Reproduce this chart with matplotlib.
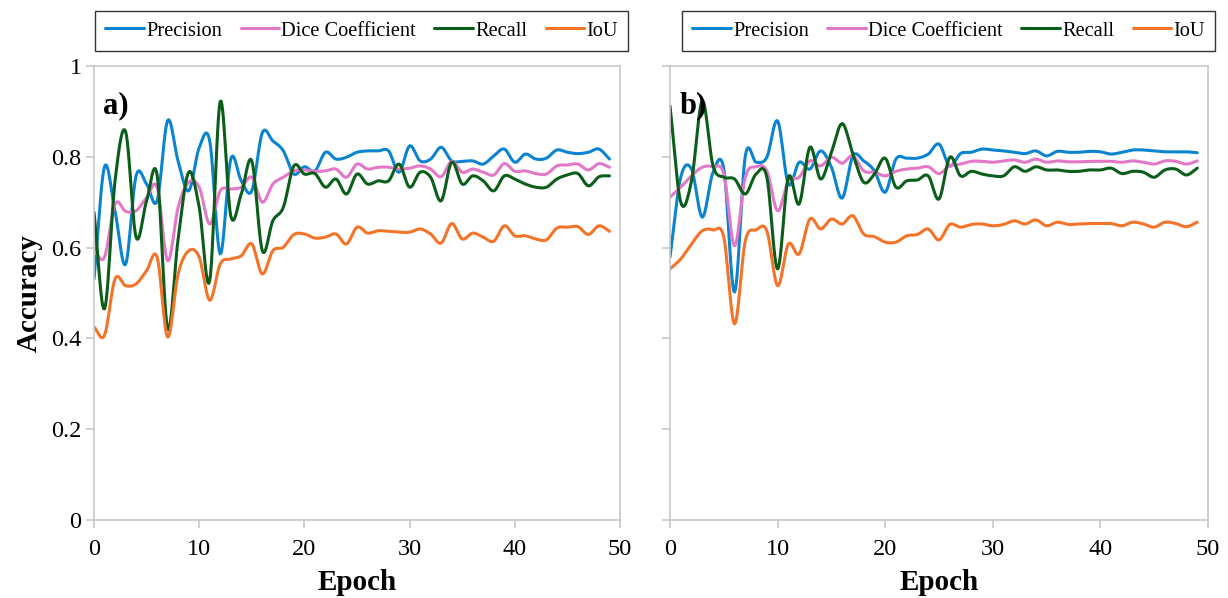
import numpy as np
import matplotlib.pyplot as plt

plt.rcParams['font.family'] = ['Liberation Serif', 'DejaVu Serif']

epochs = list(range(50))
series_names = ["Precision", "Dice Coefficient", "Recall", "IoU"]
colors = ["#0a84d0", "#e377c8", "#0b5e1a", "#f37328"]

# panel a) values, one per epoch
prec_a = [0.531, 0.778, 0.68, 0.563, 0.758, 0.74, 0.703, 0.88, 0.79, 0.725,
          0.82, 0.835, 0.586, 0.795, 0.747, 0.725, 0.853, 0.835, 0.813, 0.762,
          0.778, 0.769, 0.81, 0.795, 0.799, 0.81, 0.813, 0.813, 0.813, 0.766,
          0.824, 0.791, 0.795, 0.821, 0.791, 0.79, 0.791, 0.784, 0.802, 0.817,
          0.788, 0.806, 0.795, 0.797, 0.815, 0.81, 0.807, 0.81, 0.817, 0.795]
dice_a = [0.593, 0.579, 0.696, 0.68, 0.681, 0.71, 0.733, 0.571, 0.689, 0.744,
          0.733, 0.652, 0.725, 0.729, 0.733, 0.755, 0.70, 0.74, 0.755, 0.769,
          0.771, 0.768, 0.769, 0.773, 0.755, 0.784, 0.773, 0.777, 0.777, 0.773,
          0.775, 0.78, 0.773, 0.756, 0.79, 0.766, 0.773, 0.766, 0.76, 0.785,
          0.768, 0.769, 0.763, 0.762, 0.78, 0.782, 0.784, 0.771, 0.785, 0.777]
rec_a = [0.678, 0.465, 0.747, 0.856, 0.623, 0.703, 0.76, 0.421, 0.62, 0.766,
         0.689, 0.527, 0.922, 0.67, 0.718, 0.791, 0.593, 0.659, 0.689, 0.78,
         0.762, 0.763, 0.733, 0.751, 0.718, 0.762, 0.74, 0.747, 0.747, 0.784,
         0.733, 0.766, 0.755, 0.703, 0.788, 0.74, 0.758, 0.747, 0.725, 0.758,
         0.751, 0.74, 0.733, 0.733, 0.751, 0.76, 0.763, 0.736, 0.756, 0.758]
iou_a = [0.425, 0.407, 0.531, 0.516, 0.52, 0.549, 0.579, 0.403, 0.542, 0.593,
         0.579, 0.484, 0.564, 0.575, 0.582, 0.608, 0.542, 0.593, 0.601, 0.629,
         0.63, 0.621, 0.623, 0.63, 0.608, 0.645, 0.632, 0.637, 0.636, 0.634,
         0.634, 0.641, 0.63, 0.61, 0.653, 0.619, 0.632, 0.623, 0.614, 0.648,
         0.626, 0.626, 0.619, 0.617, 0.643, 0.645, 0.646, 0.629, 0.648, 0.636]

# panel b)
prec_b = [0.579, 0.755, 0.773, 0.667, 0.766, 0.773, 0.502, 0.802, 0.788, 0.799,
          0.879, 0.74, 0.788, 0.773, 0.813, 0.777, 0.709, 0.802, 0.791, 0.769,
          0.722, 0.795, 0.797, 0.797, 0.806, 0.828, 0.78, 0.807, 0.81, 0.817,
          0.815, 0.813, 0.81, 0.807, 0.813, 0.802, 0.812, 0.81, 0.81, 0.812,
          0.811, 0.806, 0.81, 0.815, 0.815, 0.813, 0.811, 0.811, 0.811, 0.809]
dice_b = [0.711, 0.733, 0.758, 0.777, 0.778, 0.762, 0.604, 0.755, 0.778, 0.769,
          0.681, 0.747, 0.755, 0.791, 0.78, 0.799, 0.786, 0.802, 0.769, 0.766,
          0.758, 0.768, 0.773, 0.775, 0.778, 0.763, 0.78, 0.784, 0.79, 0.79,
          0.788, 0.791, 0.793, 0.788, 0.795, 0.788, 0.791, 0.789, 0.789, 0.79,
          0.79, 0.79, 0.788, 0.791, 0.788, 0.784, 0.791, 0.79, 0.784, 0.791]
rec_b = [0.912, 0.70, 0.747, 0.923, 0.78, 0.755, 0.751, 0.718, 0.762, 0.755,
         0.553, 0.755, 0.696, 0.821, 0.751, 0.81, 0.873, 0.806, 0.744, 0.762,
         0.797, 0.733, 0.747, 0.749, 0.758, 0.707, 0.799, 0.758, 0.768, 0.762,
         0.758, 0.758, 0.778, 0.768, 0.778, 0.771, 0.771, 0.768, 0.768, 0.771,
         0.771, 0.775, 0.763, 0.768, 0.766, 0.755, 0.771, 0.773, 0.76, 0.775]
iou_b = [0.553, 0.575, 0.608, 0.637, 0.639, 0.623, 0.432, 0.615, 0.639, 0.637,
         0.516, 0.608, 0.586, 0.663, 0.641, 0.663, 0.652, 0.67, 0.63, 0.624,
         0.612, 0.612, 0.626, 0.629, 0.641, 0.617, 0.651, 0.645, 0.651, 0.652,
         0.648, 0.651, 0.659, 0.652, 0.661, 0.648, 0.656, 0.651, 0.652, 0.653,
         0.653, 0.653, 0.648, 0.656, 0.652, 0.645, 0.656, 0.653, 0.646, 0.656]


def smooth(x, y, n=12):
    # catmull-rom curve through the points, like Excel's "smoothed line"
    x = np.asarray(x, float)
    y = np.asarray(y, float)
    px = np.concatenate([[2 * x[0] - x[1]], x, [2 * x[-1] - x[-2]]])
    py = np.concatenate([[2 * y[0] - y[1]], y, [2 * y[-1] - y[-2]]])
    t = np.linspace(0, 1, n, endpoint=False)
    xs, ys = [], []
    for i in range(1, len(px) - 2):
        for p, out in ((px, xs), (py, ys)):
            p0, p1, p2, p3 = p[i - 1], p[i], p[i + 1], p[i + 2]
            out.append(0.5 * (2 * p1 + (-p0 + p2) * t
                              + (2 * p0 - 5 * p1 + 4 * p2 - p3) * t ** 2
                              + (-p0 + 3 * p1 - 3 * p2 + p3) * t ** 3))
    xs.append([x[-1]])
    ys.append([y[-1]])
    return np.concatenate(xs), np.concatenate(ys)


fig = plt.figure(figsize=(12.28, 5.98), dpi=100)
ax_a = fig.add_axes([94 / 1228, 1 - 520 / 598, 526 / 1228, 454 / 598])
ax_b = fig.add_axes([670 / 1228, 1 - 520 / 598, 538 / 1228, 454 / 598])

panels = [(ax_a, "a)", [prec_a, dice_a, rec_a, iou_a], 0.509),
          (ax_b, "b)", [prec_b, dice_b, rec_b, iou_b], 0.518)]

for ax, tag, data, lx in panels:
    for name, vals, c in zip(series_names, data, colors):
        sx, sy = smooth(epochs, vals)
        ax.plot(sx, sy, color=c, lw=2.2, label=name, solid_capstyle='round')
    ax.set_xlim(0, 50)
    ax.set_ylim(0, 1)
    ax.set_xticks(range(0, 51, 10))
    ax.set_yticks([0, 0.2, 0.4, 0.6, 0.8, 1.0])
    for s in ax.spines.values():
        s.set_color('#c8c8c8')
        s.set_linewidth(1.2)
    ax.tick_params(axis='both', colors='#c8c8c8', length=6, width=1.2,
                   labelcolor='black', labelsize=17.5)
    ax.tick_params(axis='x', pad=8)
    ax.tick_params(axis='y', pad=3)
    ax.set_xlabel("Epoch", fontsize=21, fontweight='bold', labelpad=6)
    ax.text(0.018, 0.945, tag, transform=ax.transAxes, fontsize=22,
            fontweight='bold', va='top', ha='left')
    leg = ax.legend(loc='lower center', bbox_to_anchor=(lx, 1.02), ncol=4,
                    fontsize=14.7, frameon=True, fancybox=False,
                    handlelength=1.9, handletextpad=0.1, columnspacing=0.9,
                    borderpad=0.5, borderaxespad=0.3)
    leg.get_frame().set_edgecolor('black')
    leg.get_frame().set_linewidth(1.0)

ax_a.set_yticklabels(["0", "0.2", "0.4", "0.6", "0.8", "1"])
ax_a.set_ylabel("Accuracy", fontsize=21, fontweight='bold', labelpad=6)
ax_b.set_yticklabels([])

fig.savefig("out.png", dpi=100)
